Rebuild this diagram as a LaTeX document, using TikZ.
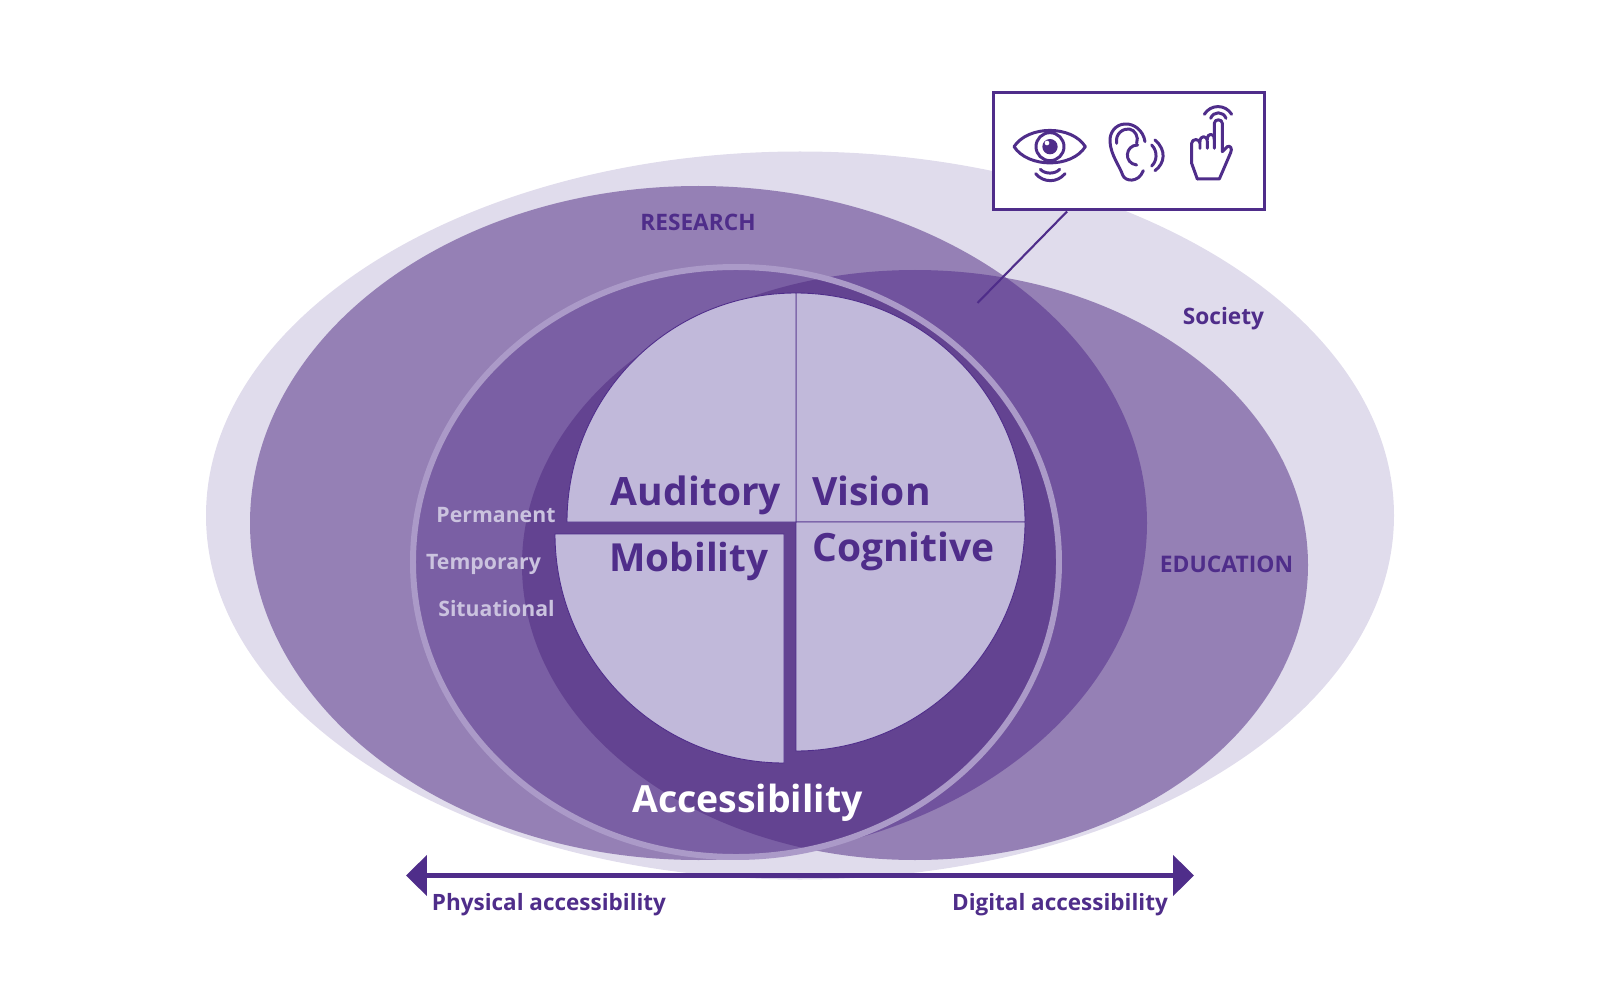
\documentclass[tikz,border=0pt]{standalone}
\usepackage{fontspec}
\setmainfont{Open Sans}
\usetikzlibrary{arrows.meta}
\definecolor{inkpurple}{HTML}{4F2D8A}
\definecolor{societyfill}{HTML}{E0DCEC}
\definecolor{fieldfill}{HTML}{9580B5}
\definecolor{bothfill}{HTML}{71539E}
\definecolor{accessfill}{HTML}{7A5FA4}
\definecolor{corefill}{HTML}{634391}
\definecolor{piefill}{HTML}{C1B9DA}
\definecolor{ringline}{HTML}{AB9AC8}
\definecolor{softtext}{HTML}{CBC3DF}
\newcommand{\societyshape}{(800,515.5) ellipse (594 and 364)}
\newcommand{\researchshape}{(698.5,523) ellipse (448.5 and 337)}
\newcommand{\educationshape}{(915,565) ellipse (393 and 295)}
\newcommand{\accessshape}{(736,562) ellipse (323 and 295)}
\tikzset{
  label/.style={font=\fontsize{#1}{#1}\selectfont\bfseries,text=inkpurple,inner sep=0pt,anchor=base},
  softlabel/.style={label=12.1,text=softtext},
  wedge/.style={fill=piefill,draw=inkpurple,line width=0.5pt},
  iconline/.style={draw=inkpurple,line width=1.7pt,line cap=round,line join=round}
}
\begin{document}
\begin{tikzpicture}[x=0.02cm,y=-0.02cm]
\useasboundingbox (0,0) rectangle (1600,1000);
% overlapping fields
\fill [societyfill] \societyshape;
\fill [fieldfill] \researchshape;
\fill [fieldfill] \educationshape;
\begin{scope}
\clip \researchshape;
\fill [bothfill] \educationshape;
\fill [accessfill] \accessshape;
\clip \educationshape;
\fill [corefill] \accessshape;
\end{scope}
\draw [ringline,line width=3.4pt] \accessshape;
% pie
\draw [wedge] (796,522) -- ++(0,-229) arc (-90:0:229) -- cycle;
\draw [wedge] (796,522) -- ++(229,0) arc (0:90:229) -- cycle;
\draw [wedge] (796,522) -- ++(-229,0) arc (180:270:229) -- cycle;
\draw [wedge] (784,534) -- ++(-229,0) arc (180:90:229) -- cycle;
% labels
\node (research) [label=12.9] at (698,231) {RESEARCH};
\node (society) [label=12.9] at (1223.5,324.5) {Society};
\node (education) [label=13] at (1226.5,572) {EDUCATION};
\node (permanent) [softlabel] at (496,522.5) {Permanent};
\node (temporary) [softlabel] at (483.5,569.4) {Temporary};
\node (situational) [softlabel] at (496.5,616) {Situational};
\node (auditory) [label=22.2] at (696,505.5) {Auditory};
\node (vision) [label=22.2] at (871.5,505.5) {Vision};
\node (mobility) [label=22] at (689,571.5) {Mobility};
\node (cognitive) [label=22.2] at (903.5,561.5) {Cognitive};
\node (accessibility) [label=21.3,text=white] at (747.5,812) {Accessibility};
% spectrum
\coordinate (physicalend) at (406,875.5);
\coordinate (digitalend) at (1194,875.5);
\draw [inkpurple,line width=3.4pt,{Triangle[length=0.42cm,width=0.8cm]}-{Triangle[length=0.42cm,width=0.8cm]}] (physicalend) -- (digitalend);
\node (physical) [label=12.8] at (549,910) {Physical accessibility};
\node (digital) [label=12.8] at (1060,910) {Digital accessibility};
% callout
\node (iconbox) [draw=inkpurple,fill=white,line width=1.7pt,minimum width=5.42cm,minimum height=2.36cm,inner sep=0pt] at (1129,151) {};
\coordinate (calloutend) at (977.5,303);
\draw [inkpurple,line width=1.2pt] (iconbox.south west) ++(75,0) -- (calloutend);
\begin{scope}[shift={(970,80)},x=0.00667cm,y=-0.00667cm]
% eye
\draw [iconline] (132,200) .. controls (175,135) and (305,135) .. (346,200) .. controls (305,265) and (175,265) .. (132,200) -- cycle;
\draw [iconline] (240,200) circle (42);
\fill [inkpurple] (240,200) circle (23);
\fill [white] (231,189) circle (7);
\draw [iconline] (211,268) .. controls (225,283) and (255,283) .. (269,268);
\draw [iconline] (197,281) .. controls (220,309) and (262,309) .. (285,281);
% ear
\draw [iconline] (525,185) .. controls (520,150) and (490,130) .. (465,132) .. controls (435,133) and (418,160) .. (420,185) .. controls (422,225) and (450,260) .. (458,285) .. controls (465,305) and (505,310) .. (520,272);
\draw [iconline] (440,190) .. controls (435,160) and (460,145) .. (478,147) .. controls (495,150) and (507,170) .. (500,190);
\draw [iconline] (503,195) .. controls (465,195) and (460,250) .. (500,255);
\draw [iconline] (545,195) .. controls (565,215) and (560,245) .. (545,258);
\draw [iconline] (555,180) .. controls (590,210) and (585,250) .. (555,272);
% hand
\draw [iconline] (682,297) -- (665,250) -- (665,190) .. controls (665,175) and (690,175) .. (690,190) -- (690,205);
\draw [iconline] (690,185) .. controls (690,165) and (712,165) .. (712,185) -- (712,205);
\draw [iconline] (712,178) .. controls (712,158) and (733,158) .. (733,178) -- (733,205);
\draw [iconline] (733,180) -- (733,130) .. controls (733,116) and (757,116) .. (757,130) -- (757,215) -- (772,200) .. controls (780,195) and (788,205) .. (782,218) -- (748,297) -- (682,297);
\draw [iconline] (722,115) .. controls (730,93) and (760,93) .. (768,115);
\draw [iconline] (703,103) .. controls (722,72) and (766,72) .. (785,103);
\end{scope}
\end{tikzpicture}
\end{document}
